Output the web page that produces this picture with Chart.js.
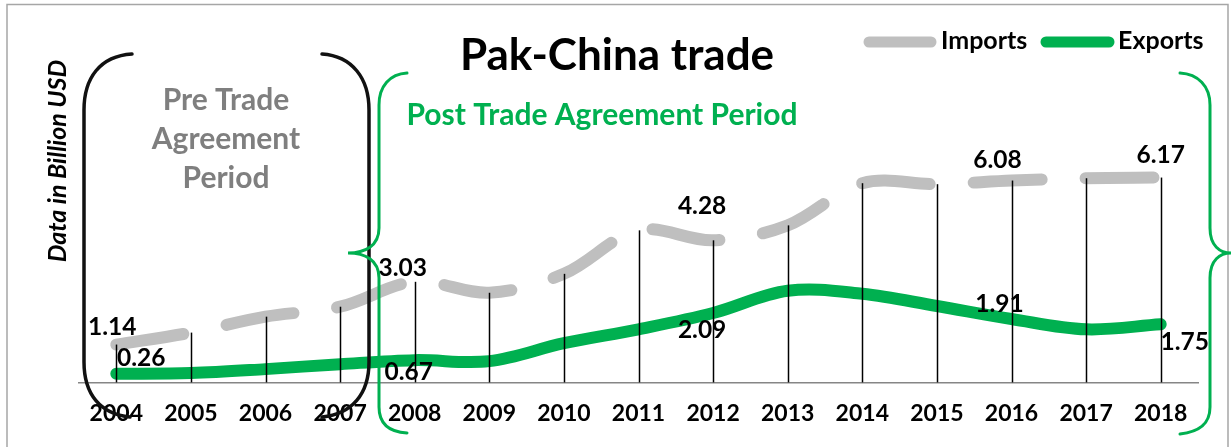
<!DOCTYPE html>
<html>
<head>
<meta charset="utf-8">
<script src="https://cdn.jsdelivr.net/npm/chart.js@4.4.0/dist/chart.umd.min.js"></script>
<style>
  body { margin: 0; background: #fff; }
</style>
</head>
<body>
<canvas id="trade" width="1231" height="447"></canvas>
<script>
const years = ['2004', '2005', '2006', '2007', '2008', '2009', '2010', '2011', '2012', '2013', '2014', '2015', '2016', '2017', '2018'];
const imports = [1.14, 1.50, 1.98, 2.28, 3.03, 2.70, 3.27, 4.58, 4.28, 4.73, 6.00, 5.97, 6.08, 6.15, 6.17];
const exports = [0.26, 0.28, 0.40, 0.55, 0.67, 0.64, 1.18, 1.60, 2.09, 2.76, 2.67, 2.30, 1.91, 1.60, 1.75];
const labelled = [0, 4, 8, 12, 14];

// pixel nudges for the value labels, per labelled point
const importNudge = [[-4, -18], [-12, -14], [-11, -35], [-14, -21], [0, -23]];
const exportNudge = [[25, -16], [-6, 11], [-11, 16], [-12, -15], [24, 17]];

const GREEN = '#00B050';
const GREY = '#BFBFBF';
const FONT = 'Lato, "Open Sans", sans-serif';

const dropLines = {
  id: 'dropLines',
  afterDatasetsDraw(chart) {
    const { ctx, scales: { x, y } } = chart;
    ctx.save();
    ctx.strokeStyle = '#000';
    ctx.lineWidth = 1.5;
    imports.forEach((v, i) => {
      const px = Math.round(x.getPixelForValue(i)) + 0.5;
      ctx.beginPath();
      ctx.moveTo(px, y.getPixelForValue(Math.max(v, exports[i])));
      ctx.lineTo(px, y.getPixelForValue(0));
      ctx.stroke();
    });

    // value labels
    ctx.fillStyle = '#000';
    ctx.font = 'bold 24.5px ' + FONT;
    ctx.textAlign = 'center';
    ctx.textBaseline = 'alphabetic';
    labelled.forEach((i, k) => {
      const px = x.getPixelForValue(i);
      ctx.fillText(imports[i].toFixed(2), px + importNudge[k][0], y.getPixelForValue(imports[i]) + importNudge[k][1] + 8.5);
      ctx.fillText(exports[i].toFixed(2), px + exportNudge[k][0], y.getPixelForValue(exports[i]) + exportNudge[k][1] + 8.5);
    });
    ctx.restore();
  }
};

const decorations = {
  id: 'decorations',
  afterDraw(chart) {
    const ctx = chart.ctx;
    ctx.save();

    // outer frame
    ctx.strokeStyle = '#A6A6A6';
    ctx.lineWidth = 1.5;
    ctx.strokeRect(7, 4.5, 1221, 470);

    // title
    ctx.fillStyle = '#000';
    ctx.textAlign = 'center';
    ctx.font = 'bold 44px ' + FONT;
    ctx.fillText('Pak-China trade', 617, 70);

    // legend
    ctx.lineCap = 'round';
    ctx.lineWidth = 11;
    ctx.strokeStyle = GREY;
    ctx.beginPath(); ctx.moveTo(869, 42); ctx.lineTo(931, 42); ctx.stroke();
    ctx.strokeStyle = GREEN;
    ctx.beginPath(); ctx.moveTo(1046, 42); ctx.lineTo(1109, 42); ctx.stroke();
    ctx.textAlign = 'left';
    ctx.font = 'bold 25px ' + FONT;
    ctx.fillText('Imports', 941, 49);
    ctx.fillText('Exports', 1118, 49);

    // y axis title
    ctx.save();
    ctx.translate(66, 161);
    ctx.rotate(-Math.PI / 2);
    ctx.textAlign = 'center';
    ctx.font = 'italic bold 25px ' + FONT;
    ctx.fillText('Data in Billion USD', 0, 0);
    ctx.restore();

    // period captions
    ctx.textAlign = 'center';
    ctx.font = 'bold 30px ' + FONT;
    ctx.fillStyle = '#7F7F7F';
    ctx.fillText('Pre Trade', 226, 110);
    ctx.fillText('Agreement', 226, 149);
    ctx.fillText('Period', 226, 188);
    ctx.fillStyle = GREEN;
    ctx.fillText('Post Trade Agreement Period', 602, 125);

    // black parentheses round the pre-agreement years
    ctx.lineCap = 'round';
    ctx.lineWidth = 3.5;
    ctx.strokeStyle = '#111';
    ctx.beginPath();
    ctx.moveTo(132, 54);
    ctx.bezierCurveTo(100, 56, 84, 78, 84, 110);
    ctx.lineTo(84, 362);
    ctx.bezierCurveTo(84, 394, 100, 414, 130, 417);
    ctx.stroke();
    ctx.beginPath();
    ctx.moveTo(322, 54);
    ctx.bezierCurveTo(352, 56, 369, 78, 369, 110);
    ctx.lineTo(369, 362);
    ctx.bezierCurveTo(369, 394, 352, 414, 322, 417);
    ctx.stroke();

    // green braces round the post-agreement years
    ctx.lineWidth = 3;
    ctx.strokeStyle = GREEN;
    ctx.beginPath();
    ctx.moveTo(407, 73);
    ctx.bezierCurveTo(390, 74, 379, 86, 379, 105);
    ctx.lineTo(379, 228);
    ctx.bezierCurveTo(379, 246, 365, 253, 348, 253);
    ctx.bezierCurveTo(365, 253, 379, 260, 379, 278);
    ctx.lineTo(379, 407);
    ctx.bezierCurveTo(379, 425, 390, 432, 407, 433);
    ctx.stroke();
    ctx.beginPath();
    ctx.moveTo(1180, 73);
    ctx.bezierCurveTo(1198, 74, 1210, 86, 1210, 105);
    ctx.lineTo(1210, 228);
    ctx.bezierCurveTo(1210, 246, 1220, 253, 1231, 253);
    ctx.bezierCurveTo(1220, 253, 1210, 260, 1210, 278);
    ctx.lineTo(1210, 407);
    ctx.bezierCurveTo(1210, 425, 1198, 432, 1180, 434);
    ctx.stroke();

    ctx.restore();
  }
};

new Chart(document.getElementById('trade'), {
  type: 'line',
  data: {
    labels: years,
    datasets: [
      {
        label: 'Imports',
        data: imports,
        borderColor: GREY,
        borderWidth: 12,
        borderDash: [68, 44],
        borderCapStyle: 'round',
        tension: 0.35,
        pointRadius: 0,
      },
      {
        label: 'Exports',
        data: exports,
        borderColor: GREEN,
        borderWidth: 12,
        borderCapStyle: 'round',
        tension: 0.35,
        pointRadius: 0,
      },
    ],
  },
  options: {
    responsive: false,
    animation: false,
    layout: { padding: { left: 79, right: 33, top: 150, bottom: 3 } },
    plugins: {
      legend: { display: false },
      tooltip: { enabled: false },
    },
    scales: {
      x: {
        offset: true,
        grid: { display: false, drawTicks: false, tickLength: 0 },
        border: { display: true, color: '#868686', width: 1.5 },
        ticks: {
          color: '#000',
          padding: 17,
          font: { family: FONT, size: 23, weight: 'bold' },
        },
      },
      y: {
        display: false,
        min: 0,
        max: 7,
      },
    },
  },
  plugins: [dropLines, decorations],
});
</script>
</body>
</html>
